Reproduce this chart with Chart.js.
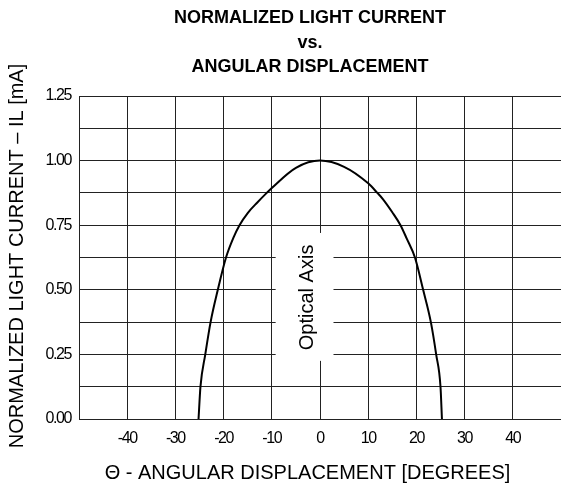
<!DOCTYPE html>
<html>
<head>
<meta charset="utf-8">
<script src="https://cdn.jsdelivr.net/npm/chart.js@4"></script>
<style>
  html, body { margin: 0; padding: 0; background: #fff; overflow: hidden; }
  #wrap { width: 561px; height: 486px; position: relative; }
</style>
</head>
<body>
<div id="wrap"><canvas id="c"></canvas></div>
<script>
// ---- data ----
const titleLines = ["NORMALIZED LIGHT CURRENT", "vs.", "ANGULAR DISPLACEMENT"];
const xTitle = "\u0398 - ANGULAR DISPLACEMENT [DEGREES]";
const yTitle = "NORMALIZED LIGHT CURRENT \u2013 IL [mA]";
const axisNote = "Optical Axis";
const angles  = [-25.2, -24.8, -23.8, -22.7, -21.2, -19.5, -18.0, -16.7, -15.0, -13.0, -11.0, -10.0, -5.0, 0, 5.0, 10.0, 11.9, 13.0, 15.0, 16.7, 18.0, 19.7, 21.4, 23.0, 24.1, 25.0, 25.3];
const current = [0.0, 0.125, 0.25, 0.375, 0.5, 0.625, 0.70, 0.75, 0.797, 0.838, 0.876, 0.894, 0.972, 1.0, 0.976, 0.912, 0.875, 0.852, 0.80, 0.75, 0.698, 0.625, 0.5, 0.375, 0.25, 0.125, 0.0];
const xTicksHidden = [-50, 50];
const yLabelStep = 0.25;

const SANS = "'Liberation Sans', Arial, sans-serif";

const decor = {
  id: 'decor',
  beforeDraw(chart) {
    // tick labels in the reference are set tight (condensed)
    chart.ctx.letterSpacing = '-1.4px';
  },
  beforeDatasetsDraw(chart) {
    const ctx = chart.ctx;
    ctx.letterSpacing = '0px';
    const x = chart.scales.x, y = chart.scales.y;
    // white box that interrupts the grid around the optical-axis note
    const x0 = x.getPixelForValue(-9.2), x1 = x.getPixelForValue(2.8);
    const y0 = y.getPixelForValue(0.72), y1 = y.getPixelForValue(0.225);
    ctx.save();
    ctx.fillStyle = '#fff';
    ctx.fillRect(x0, y0, x1 - x0, y1 - y0);
    ctx.translate(x.getPixelForValue(-1.5), (y0 + y1) / 2 + 0.5);
    ctx.rotate(-Math.PI / 2);
    ctx.fillStyle = '#000';
    ctx.font = '20px ' + SANS;
    ctx.textAlign = 'center';
    ctx.textBaseline = 'alphabetic';
    ctx.fillText(axisNote, 0, 0);
    ctx.restore();
  },
  afterDraw(chart) {
    const ctx = chart.ctx;
    ctx.save();
    ctx.letterSpacing = '0px';
    ctx.fillStyle = '#000';
    ctx.textAlign = 'center';
    ctx.textBaseline = 'alphabetic';
    ctx.font = 'bold 18px ' + SANS;
    const bl = [23, 47.5, 72];
    titleLines.forEach((t, i) => ctx.fillText(t, 310, bl[i]));
    ctx.font = '20px ' + SANS;
    ctx.fillText(xTitle, 307.5, 479);
    ctx.translate(23, 256);
    ctx.rotate(-Math.PI / 2);
    ctx.fillText(yTitle, 0, 0);
    ctx.restore();
  }
};

new Chart(document.getElementById('c'), {
  type: 'line',
  data: {
    datasets: [{
      data: angles.map((a, i) => ({ x: a, y: current[i] })),
      borderColor: '#000',
      borderWidth: 2,
      pointRadius: 0,
      fill: false,
      cubicInterpolationMode: 'monotone'
    }]
  },
  options: {
    responsive: true,
    maintainAspectRatio: false,
    devicePixelRatio: 1,
    animation: false,
    events: [],
    layout: { padding: { top: 96, left: 0, right: 0, bottom: 37 } },
    plugins: { legend: { display: false }, title: { display: false }, tooltip: { enabled: false } },
    scales: {
      x: {
        type: 'linear',
        min: -50, max: 50,
        afterFit(s) { s.height = 30; s.paddingLeft = 0; s.paddingRight = 0; },
        grid: {
          color: c => (c.tick && c.tick.value > 45) ? 'rgba(255,255,255,0)' : '#222',
          lineWidth: c => (c.tick && c.tick.value > 45) ? 0 : 1,
          drawTicks: false
        },
        border: { color: '#222', width: 1 },
        ticks: {
          stepSize: 10, autoSkip: false, maxRotation: 0, padding: 10,
          color: '#000', font: { family: SANS, size: 16 },
          callback: v => xTicksHidden.includes(v) ? '' : String(v)
        }
      },
      y: {
        min: 0, max: 1.25,
        afterFit(s) { s.width = 79; },
        grid: { color: '#222', lineWidth: 1, drawTicks: false },
        border: { color: '#222', width: 1 },
        ticks: {
          stepSize: 0.125, autoSkip: false, padding: 8,
          color: '#000', font: { family: SANS, size: 16 },
          callback: v => {
            const r = v / yLabelStep;
            return Math.abs(r - Math.round(r)) < 1e-6 ? v.toFixed(2) : '';
          }
        }
      }
    }
  },
  plugins: [decor]
});
</script>
</body>
</html>
